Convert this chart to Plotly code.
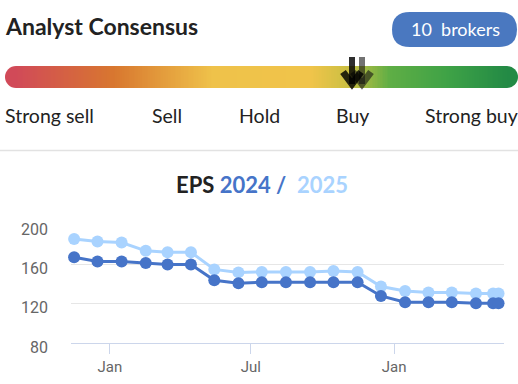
import plotly.graph_objects as go
import numpy as np

# ---- data ----
dates = ["2022-11-16", "2022-12-16", "2023-01-16", "2023-02-16", "2023-03-16",
         "2023-04-15", "2023-05-15", "2023-06-15", "2023-07-15", "2023-08-15",
         "2023-09-15", "2023-10-15", "2023-11-15", "2023-12-15", "2024-01-15",
         "2024-02-14", "2024-03-15", "2024-04-15", "2024-05-07", "2024-05-14"]
eps_2024 = [167.5, 163, 163, 161.5, 160, 160, 144, 141, 142, 142,
            142, 142, 142, 128, 121.5, 121.5, 121.5, 120.5, 120.5, 120.5]
eps_2025 = [186, 183.5, 182.5, 174, 172.5, 172.5, 155, 152, 152.5, 152.5,
            152.5, 153.5, 152.5, 137.5, 133, 131.5, 131.5, 130.5, 130.5, 130.5]
x_tickvals = ["2023-01-01", "2023-07-01", "2024-01-01"]
x_ticktext = ["Jan", "Jul", "Jan"]
y_tickvals = [80, 120, 160, 200]
rating_labels = ["Strong sell", "Sell", "Hold", "Buy", "Strong buy"]
broker_count = 10

W, H = 518, 384
def px(x): return x / W
def py(y): return 1 - y / H

DARK = "#4674c8"
LIGHT = "#a9d3ff"

fig = go.Figure()

# gradient consensus bar (heatmap)
grad = np.linspace(0, 1, 300)
colorscale = [[0.0, "#d14a58"], [0.2, "#d8772f"], [0.4, "#efc24a"], [0.6, "#f0c44a"],
              [0.68, "#c9bf42"], [0.76, "#5fae45"], [0.88, "#3ea246"], [1.0, "#238a45"]]
fig.add_trace(go.Heatmap(z=[grad], x=grad, y=[0], colorscale=colorscale, showscale=False,
                         xaxis="x2", yaxis="y2", hoverinfo="skip", zmin=0, zmax=1))

fig.add_trace(go.Scatter(x=dates, y=eps_2025, mode="lines+markers",
                         line=dict(color=LIGHT, width=3), marker=dict(color=LIGHT, size=12),
                         cliponaxis=False, showlegend=False))
fig.add_trace(go.Scatter(x=dates, y=eps_2024, mode="lines+markers",
                         line=dict(color=DARK, width=3), marker=dict(color=DARK, size=12),
                         cliponaxis=False, showlegend=False))

shapes = []
# rounded ends of bar
shapes.append(dict(type="circle", xref="paper", yref="paper", x0=px(5), x1=px(27), y0=py(88), y1=py(66),
                   fillcolor="#d14a58", line=dict(width=0), layer="below"))
shapes.append(dict(type="circle", xref="paper", yref="paper", x0=px(496), x1=px(518), y0=py(88), y1=py(66),
                   fillcolor="#238a45", line=dict(width=0), layer="below"))
# broker pill
r = 18
x0, x1, y0, y1 = 392, 517, 12, 47
path = (f"M {px(x0+r)},{py(y0)} L {px(x1-r)},{py(y0)} "
        f"Q {px(x1)},{py(y0)} {px(x1)},{py((y0+y1)/2)} "
        f"Q {px(x1)},{py(y1)} {px(x1-r)},{py(y1)} L {px(x0+r)},{py(y1)} "
        f"Q {px(x0)},{py(y1)} {px(x0)},{py((y0+y1)/2)} "
        f"Q {px(x0)},{py(y0)} {px(x0+r)},{py(y0)} Z")
shapes.append(dict(type="path", xref="paper", yref="paper", path=path,
                   fillcolor="#4a78c0", line=dict(width=0)))
# arrows
for cx, col in [(362, "rgba(20,20,20,0.6)"), (352, "rgba(0,0,0,0.82)")]:
    shapes.append(dict(type="path", xref="paper", yref="paper",
                       path=f"M {px(cx)},{py(57)} L {px(cx)},{py(84)}",
                       line=dict(color=col, width=6)))
    shapes.append(dict(type="path", xref="paper", yref="paper",
                       path=f"M {px(cx-9)},{py(72)} L {px(cx)},{py(84)} L {px(cx+9)},{py(72)}",
                       line=dict(color=col, width=7)))
# divider
shapes.append(dict(type="line", xref="paper", yref="paper", x0=0, x1=1, y0=py(150.5), y1=py(150.5),
                   line=dict(color="#e2e2e2", width=1.5)))

annotations = [
    dict(text="<b>Analyst Consensus</b>", x=px(5), y=py(26), xref="paper", yref="paper",
         xanchor="left", yanchor="middle", showarrow=False, xshift=-2,
         font=dict(family="Lato", size=23, color="#222")),
    dict(text=f"{broker_count}  brokers", x=px(455), y=py(29.5), xref="paper", yref="paper",
         xanchor="center", yanchor="middle", showarrow=False,
         font=dict(family="Lato", size=18, color="white")),
    dict(text=f"<b>EPS <span style='color:{DARK}'>2024 /</span>  <span style='color:{LIGHT}'>2025</span></b>",
         x=px(262), y=py(185), xref="paper", yref="paper", xanchor="center", yanchor="middle",
         showarrow=False, font=dict(family="Lato", size=22, color="#222")),
]
label_pos = [(5, "left", -2), (167, "center", 0), (259, "center", 0), (352, "center", 0), (518, "right", 2)]
for lab, (lx, anc, sh) in zip(rating_labels, label_pos):
    annotations.append(dict(text=lab, x=px(lx), y=py(116), xref="paper", yref="paper",
                            xanchor=anc, yanchor="middle", showarrow=False, xshift=sh,
                            font=dict(family="Lato", size=19.5, color="#222")))

fig.update_layout(
    template="none",
    width=W, height=H, margin=dict(l=0, r=0, t=0, b=0, pad=0, autoexpand=False),
    paper_bgcolor="white", plot_bgcolor="white",
    shapes=shapes, annotations=annotations, showlegend=False,
    xaxis=dict(domain=[px(71), px(504)], type="date", range=["2022-11-12", "2024-05-21"],
               tickvals=x_tickvals, ticktext=x_ticktext, showgrid=False,
               showline=True, linecolor="#ccd6eb", linewidth=1,
               ticks="outside", ticklen=10, tickcolor="#ccd6eb", tickwidth=1,
               tickfont=dict(family="Roboto", size=15, color="#666"), anchor="y",
               zeroline=False, automargin=False),
    yaxis=dict(domain=[py(343), py(225)], range=[80, 200.3], tickvals=y_tickvals,
               showgrid=True, gridcolor="#e6e6e6", gridwidth=1, zeroline=False,
               showline=False, ticks="", ticklabelstandoff=22, ticklabelshift=4,
               tickfont=dict(family="Roboto", size=16, color="#666"), anchor="x",
               automargin=False),
    xaxis2=dict(domain=[px(16), px(507)], range=[0, 1], visible=False, anchor="y2",
                fixedrange=True, automargin=False),
    yaxis2=dict(domain=[py(88), py(66)], range=[-0.5, 0.5], visible=False, anchor="x2",
                fixedrange=True, automargin=False),
)

fig.write_html("out.html", config={"displayModeBar": False},
               post_script="document.body.style.margin='0';document.body.style.overflow='hidden';")
